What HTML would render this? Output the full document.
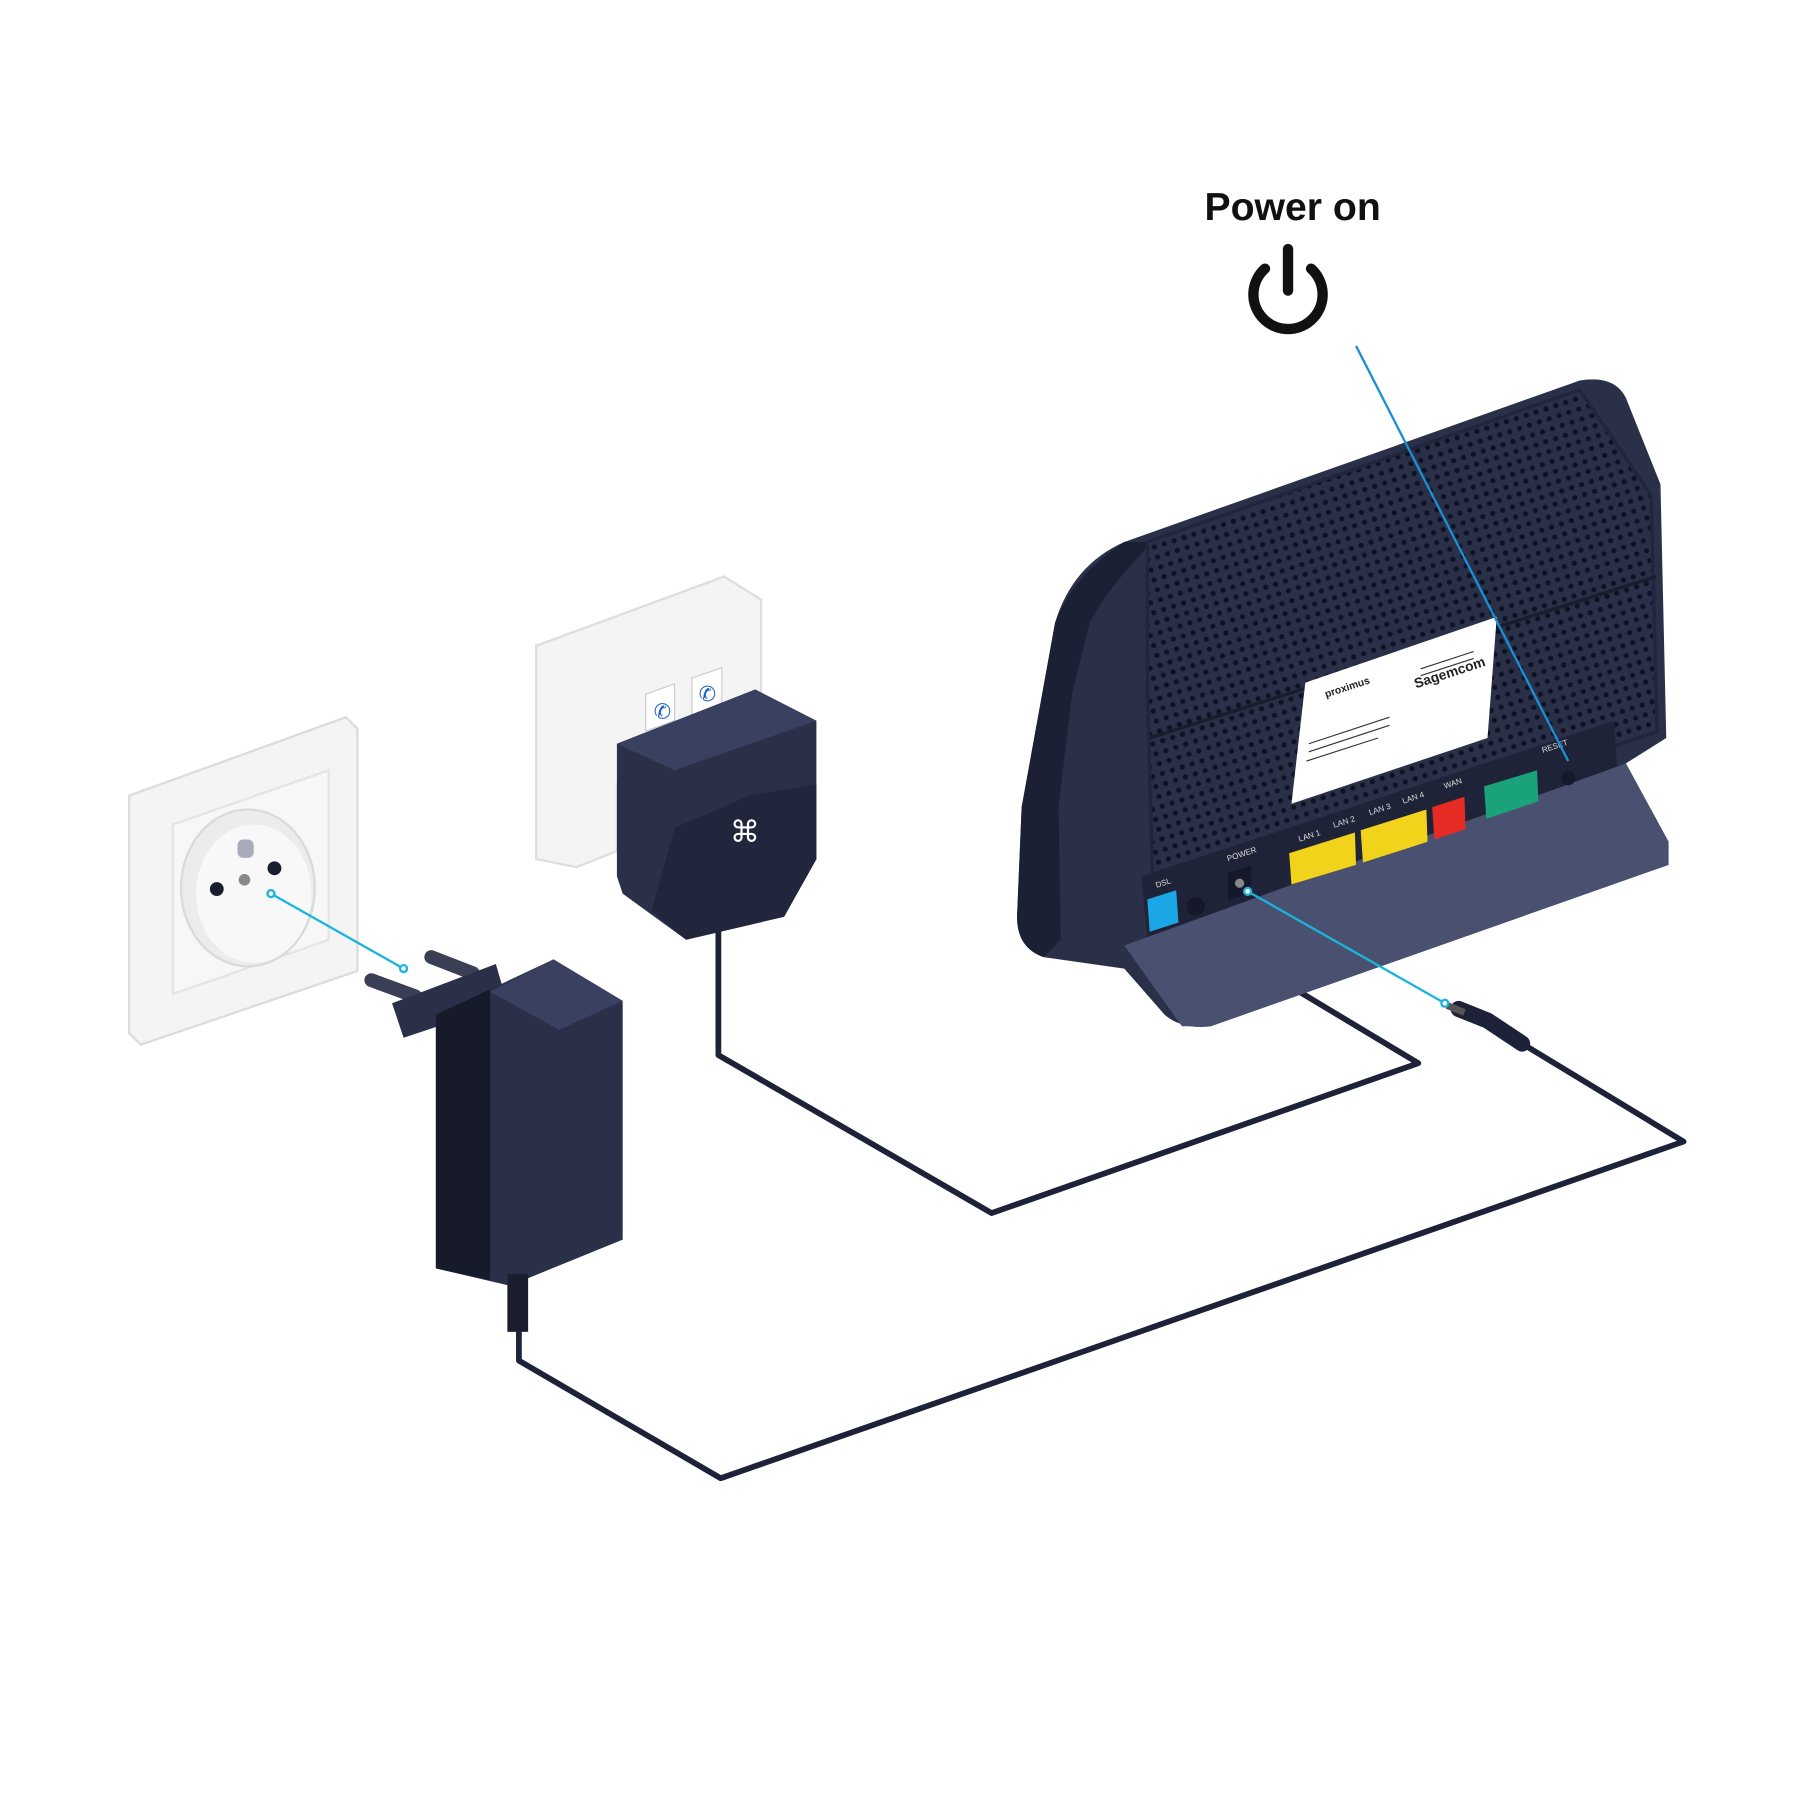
<!DOCTYPE html>
<html><head><meta charset="utf-8"><style>
html,body{margin:0;padding:0;background:#fff;width:1800px;height:1800px;overflow:hidden}
svg{display:block}
</style></head><body>
<svg width="1800" height="1800" viewBox="0 0 1561 1561" xmlns="http://www.w3.org/2000/svg">
<defs>
<pattern id="vent" width="9" height="9" patternUnits="userSpaceOnUse" patternTransform="rotate(-18)">
<rect width="9" height="9" fill="#2b3049"/><circle cx="4.5" cy="4.5" r="2.3" fill="#0f1222"/>
</pattern>
</defs>
<rect width="1561" height="1561" fill="#fff"/>

<!-- Title -->
<text x="1121" y="191" text-anchor="middle" font-family="Liberation Sans, sans-serif" font-weight="bold" font-size="34" fill="#111">Power on</text>
<path d="M1097 233 A30 30 0 1 0 1137 233" fill="none" stroke="#111" stroke-width="9" stroke-linecap="round"/>
<line x1="1117" y1="216" x2="1117" y2="252" stroke="#111" stroke-width="9" stroke-linecap="round"/>

<!-- cables -->
<g fill="none" stroke="#1e2238" stroke-width="5" stroke-linejoin="round" stroke-linecap="round">
<path d="M623 800 L623 915 L860 1052 L1230 922 L1010 790"/>
<path d="M450 1110 L450 1180 L625 1282 L1460 990 L1320 905"/>
</g>
<path d="M1265 875 L1290 885 L1320 905" stroke="#1e2238" stroke-width="14" stroke-linecap="round" fill="none"/>
<path d="M1255 872 L1270 878" stroke="#555" stroke-width="6" fill="none"/>

<!-- wall socket -->
<polygon points="112,690 300,622 310,632 310,842 122,906 112,896" fill="#f4f4f4" stroke="#dcdcdc" stroke-width="2"/>
<polygon points="150,715 285,668 285,815 150,862" fill="#f7f7f7" stroke="#e4e4e4" stroke-width="2"/>
<ellipse cx="215" cy="770" rx="58" ry="68" fill="#ececec" stroke="#dadada" stroke-width="2"/>
<ellipse cx="220" cy="775" rx="50" ry="60" fill="#f8f8f8"/>
<circle cx="188" cy="771" r="6" fill="#1a1d2e"/><circle cx="238" cy="753" r="6" fill="#1a1d2e"/>
<circle cx="212" cy="763" r="5" fill="#888"/>
<rect x="206" y="728" width="14" height="16" rx="5" fill="#a7adb8"/>

<!-- phone wall plate -->
<polygon points="465,560 628,500 660,520 660,608 560,640 535,680 535,738 500,752 465,745" fill="#f4f4f4" stroke="#dedede" stroke-width="2"/>
<polygon points="560,602 585,593 585,625 560,634" fill="#fff" stroke="#ccc"/>
<polygon points="600,588 626,579 626,611 600,620" fill="#fff" stroke="#ccc"/>
<text x="567" y="623" font-size="18" fill="#1b5fc4" font-family="DejaVu Sans, sans-serif">✆</text>
<text x="606" y="608" font-size="18" fill="#1b5fc4" font-family="DejaVu Sans, sans-serif">✆</text>

<!-- splitter -->
<polygon points="535,645 655,598 708,625 708,745 680,795 595,815 540,775 535,760" fill="#2b3049"/>
<polygon points="535,645 655,598 708,625 585,668" fill="#3a4060"/>
<polygon points="585,718 650,690 708,680 708,745 680,795 595,815 565,790" fill="#22263d"/>
<text x="646" y="730" text-anchor="middle" font-size="26" fill="#fff" font-family="DejaVu Sans, sans-serif">⌘</text>

<!-- power adapter -->
<line x1="322" y1="850" x2="360" y2="864" stroke="#3a3f55" stroke-width="12" stroke-linecap="round"/>
<line x1="374" y1="830" x2="410" y2="844" stroke="#3a3f55" stroke-width="12" stroke-linecap="round"/>
<polygon points="340,870 430,836 440,870 350,900" fill="#2b3049"/>
<polygon points="378,880 480,832 540,868 540,1075 442,1115 378,1100" fill="#2b3049"/>
<polygon points="378,880 425,858 425,1110 378,1100" fill="#171a2b"/>
<polygon points="425,860 480,832 540,868 485,893" fill="#3a4060"/>
<rect x="440" y="1105" width="18" height="50" fill="#1a1d2e"/>

<!-- router -->
<path d="M915 540 Q930 490 975 470 L1370 330 Q1400 325 1410 345 L1440 420 L1445 640 L1410 662 L1447 730 L1447 750 L1050 890 Q1025 893 1010 880 L975 840 L905 830 Q882 822 882 795 L886 700 Z" fill="#2b3049"/>
<path d="M915 540 Q930 500 975 470 L1000 470 Q960 510 945 540 L930 600 L918 700 L920 815 L905 830 Q882 822 882 795 L886 700 Z" fill="#1c2035"/>
<path d="M995 470 L1370 338 L1432 430 L1437 635 L1000 775 L995 600 Z" fill="url(#vent)"/>
<path d="M995 470 L1370 338 L1432 430 L1437 635 L1000 775 L995 600 Z" fill="none" stroke="#22263d" stroke-width="3"/>
<line x1="997" y1="640" x2="1436" y2="500" stroke="#1a1d2e" stroke-width="3"/>
<polygon points="990,760 1400,625 1403,680 995,815" fill="#1f2337"/>
<polygon points="975,820 1410,662 1447,730 1447,750 1050,890 1025,890" fill="#4a5170"/>
<!-- label -->
<polygon points="1132,592 1298,535 1290,640 1120,697" fill="#fff"/>
<g font-family="Liberation Sans, sans-serif" fill="#222" font-size="9">
<text transform="translate(1228,597) rotate(-18)" font-size="12" font-weight="bold">Sagemcom</text>
<text transform="translate(1150,605) rotate(-18)" font-weight="bold">proximus</text>
</g>
<g stroke="#333" stroke-width="1">
<path d="M1135 645 L1205 622 M1135 652 L1205 629 M1133 660 L1195 640 M1232 580 L1278 565 M1232 586 L1278 571"/>
</g>
<!-- ports -->
<polygon points="995,780 1020,772 1022,800 997,808" fill="#1ba7e5"/>
<circle cx="1037" cy="786" r="8" fill="#15182a"/>
<rect x="1065" y="758" width="20" height="24" fill="#15182a" transform="skewY(-18) translate(0,345)"/>
<circle cx="1075" cy="766" r="4" fill="#888"/>
<polygon points="1118,740 1175,722 1176,750 1120,767" fill="#f2d31b"/>
<polygon points="1180,720 1237,702 1238,730 1182,748" fill="#f2d31b"/>
<polygon points="1242,700 1270,691 1271,719 1244,728" fill="#e52b24"/>
<polygon points="1287,682 1333,668 1334,695 1289,710" fill="#1aa37a"/>
<g font-family="Liberation Sans, sans-serif" font-size="7" fill="#ddd">
<text transform="translate(1003,770) rotate(-18)">DSL</text>
<text transform="translate(1065,747) rotate(-18)">POWER</text>
<text transform="translate(1127,730) rotate(-18)">LAN 1</text>
<text transform="translate(1157,718) rotate(-18)">LAN 2</text>
<text transform="translate(1188,707) rotate(-18)">LAN 3</text>
<text transform="translate(1217,697) rotate(-18)">LAN 4</text>
<text transform="translate(1253,684) rotate(-18)">WAN</text>
<text transform="translate(1338,653) rotate(-18)">RESET</text>
</g>
<circle cx="1360" cy="675" r="6" fill="#15182a"/>

<!-- blue pointer lines -->
<g stroke="#1ab4dc" stroke-width="2" fill="#fff">
<line x1="1176" y1="300" x2="1360" y2="660" stroke="#1a8fd6"/>
<line x1="235" y1="775" x2="350" y2="840"/>
<line x1="1082" y1="773" x2="1253" y2="870"/>
<circle cx="235" cy="775" r="3"/><circle cx="350" cy="840" r="3"/>
<circle cx="1082" cy="773" r="3"/><circle cx="1253" cy="870" r="3"/>
</g>
</svg>
</body></html>
